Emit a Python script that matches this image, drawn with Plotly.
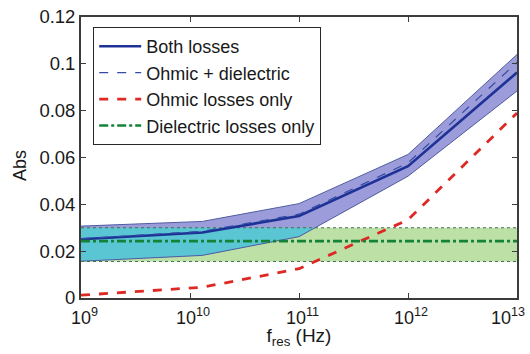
import numpy as np
import plotly.graph_objects as go

# Resonance frequencies (Hz)
f_res = [1e9, 1.3e10, 1e11, 1e12, 1e13]

# Absorption curves
both_losses = [0.0251, 0.0280, 0.0350, 0.0563, 0.0963]
ohmic_plus_dielectric = [0.0253, 0.0285, 0.0358, 0.0577, 0.1006]
ohmic_only = [0.0012, 0.0046, 0.0125, 0.0334, 0.0790]
dielectric_only = [0.0243, 0.0243, 0.0243, 0.0243, 0.0243]

# Uncertainty bands
both_upper = [0.0307, 0.0327, 0.0403, 0.0613, 0.1040]
both_lower = [0.0157, 0.0182, 0.0262, 0.0520, 0.0884]
diel_upper = [0.0300, 0.0300, 0.0300, 0.0300, 0.0300]
diel_lower = [0.0156, 0.0156, 0.0156, 0.0156, 0.0156]

x_ticks = [1e9, 1e10, 1e11, 1e12, 1e13]
x_ticktext = ["10<sup>9</sup>", "10<sup>10</sup>", "10<sup>11</sup>", "10<sup>12</sup>", "10<sup>13</sup>"]
y_ticks = [0, 0.02, 0.04, 0.06, 0.08, 0.1, 0.12]
y_ticktext = ["0", "0.02", "0.04", "0.06", "0.08", "0.1", "0.12"]

LAVENDER = "rgb(156,156,218)"
GREEN_FILL = "rgb(188,224,166)"
CYAN = "rgb(90,198,212)"
BAND_EDGE = "rgb(80,92,160)"
DOT_EDGE = "rgb(70,110,80)"
AXIS = "rgb(60,60,60)"
TEXT = "rgb(25,25,25)"

fig = go.Figure()

x_arr = np.array(f_res)
bl = np.array(both_lower)
bu = np.array(both_upper)
gl = np.array(diel_lower)
gu = np.array(diel_upper)

# dielectric band
fig.add_trace(go.Scatter(
    x=list(x_arr) + list(x_arr[::-1]), y=list(gu) + list(gl[::-1]),
    fill="toself", fillcolor=GREEN_FILL, line=dict(width=0),
    mode="lines", showlegend=False, hoverinfo="skip"))

# both-losses band
fig.add_trace(go.Scatter(
    x=list(x_arr) + list(x_arr[::-1]), y=list(bu) + list(bl[::-1]),
    fill="toself", fillcolor=LAVENDER, line=dict(width=0),
    mode="lines", showlegend=False, hoverinfo="skip"))

# region where the two bands overlap
lx = np.log10(x_arr)
x_cross = 10 ** np.interp(gu[0], bl, lx)
mask = bl < gu
ov_x = list(x_arr[mask]) + [x_cross, x_arr[0]]
ov_y = list(np.maximum(bl[mask], gl[mask])) + [gu[0], gu[0]]
fig.add_trace(go.Scatter(
    x=ov_x, y=ov_y, fill="toself", fillcolor=CYAN, line=dict(width=0),
    mode="lines", showlegend=False, hoverinfo="skip"))

# band outlines
for edge in (both_upper, both_lower):
    fig.add_trace(go.Scatter(x=f_res, y=edge, mode="lines",
                             line=dict(color=BAND_EDGE, width=1),
                             showlegend=False, hoverinfo="skip"))
for edge in (diel_upper, diel_lower):
    fig.add_trace(go.Scatter(x=f_res, y=edge, mode="lines",
                             line=dict(color=DOT_EDGE, width=1, dash="dot"),
                             showlegend=False, hoverinfo="skip"))

# main curves
fig.add_trace(go.Scatter(x=f_res, y=both_losses, mode="lines", name="Both losses",
                         line=dict(color="rgb(30,50,150)", width=2.6)))
fig.add_trace(go.Scatter(x=f_res, y=ohmic_plus_dielectric, mode="lines", name="Ohmic + dielectric",
                         line=dict(color="rgb(50,75,165)", width=1.2, dash="dash")))
fig.add_trace(go.Scatter(x=f_res, y=ohmic_only, mode="lines", name="Ohmic losses only",
                         line=dict(color="rgb(222,40,35)", width=2.8, dash="dash")))
fig.add_trace(go.Scatter(x=f_res, y=dielectric_only, mode="lines", name="Dielectric losses only",
                         line=dict(color="rgb(20,130,55)", width=2.6, dash="dashdot")))

axis_common = dict(
    showline=True, linecolor=AXIS, linewidth=1.8, mirror="ticks",
    ticks="inside", ticklen=5, tickcolor=AXIS, showgrid=False, zeroline=False,
    automargin=False,
)

# x tick labels placed on the axis scale; the last one is kept inside the page
tick_annotations = []
for i, (tv, tt) in enumerate(zip(x_ticks, x_ticktext)):
    last = i == len(x_ticks) - 1
    tick_annotations.append(dict(
        text=tt, xref="x", yref="paper", x=np.log10(tv), y=0,
        xanchor="right" if last else "center", yanchor="top",
        xshift=10 if last else 3, yshift=-5,
        showarrow=False, font=dict(size=18, color=TEXT)))

fig.update_layout(
    width=530, height=354,
    margin=dict(l=81, r=13, t=17, b=56),
    paper_bgcolor="white", plot_bgcolor="white",
    font=dict(family="Liberation Sans, Arial, sans-serif", color=TEXT, size=18),
    xaxis=dict(type="log", range=[9, 13], tickvals=x_ticks, showticklabels=False,
               title=dict(text="f<sub>res</sub> (Hz)", font=dict(size=19), standoff=30),
               **axis_common),
    yaxis=dict(range=[0, 0.12], tickvals=y_ticks, ticktext=y_ticktext,
               tickfont=dict(size=18.5), **axis_common),
    legend=dict(x=0.028, y=0.964, xanchor="left", yanchor="top",
                bgcolor="white", bordercolor="rgb(40,40,40)", borderwidth=1,
                font=dict(size=18), itemwidth=42, tracegroupgap=0),
    annotations=[dict(text="Abs", textangle=-90, xref="paper", yref="paper",
                      x=-0.14, y=0.473, xanchor="center", yanchor="middle",
                      showarrow=False, font=dict(size=18))] + tick_annotations,
)

fig.write_html("out.html")
